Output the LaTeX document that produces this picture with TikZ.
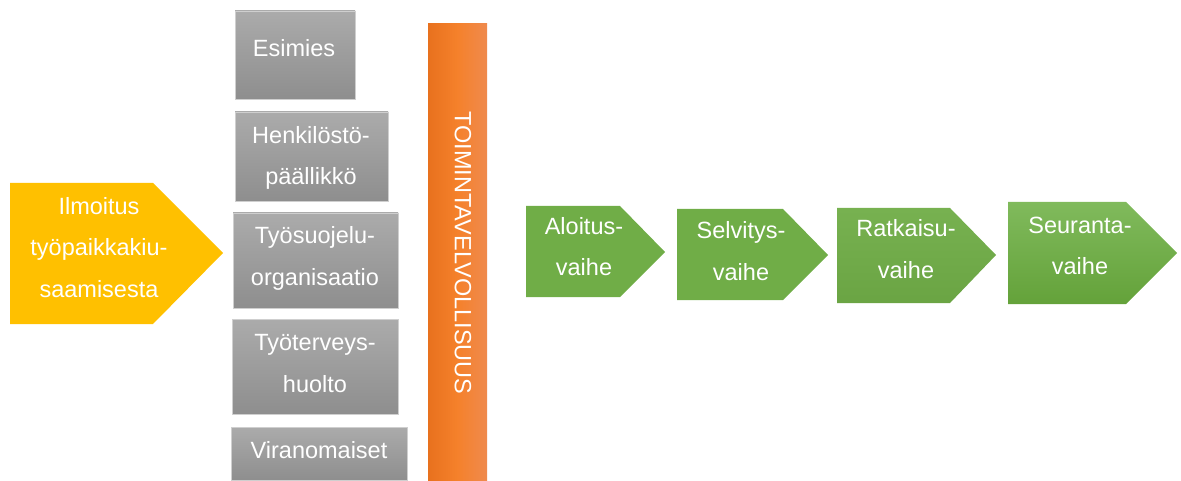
\documentclass[tikz,border=0pt]{standalone}
\usepackage{fontspec}
\setmainfont{Liberation Sans}
\definecolor{ilmo}{HTML}{FFC000}
\definecolor{vaihe}{HTML}{70AD47}
\definecolor{vaihevaalea}{HTML}{80BA5C}
\definecolor{vaihetumma}{HTML}{64A23A}
\definecolor{harmaaylä}{HTML}{ABABAB}
\definecolor{harmaaala}{HTML}{8E8E8E}
\definecolor{harmaareuna}{HTML}{CFCFCF}
\definecolor{oranssi}{HTML}{E8711E}
\definecolor{oranssikeski}{HTML}{F5812B}
\definecolor{oranssivaalea}{HTML}{EF8A4E}
\usetikzlibrary{positioning}

\begin{document}
\begin{tikzpicture}[x=1pt, y=-1pt,
  txt/.style={text=white, font=\fontsize{23.5}{41.5}\selectfont, align=center, inner sep=0pt, anchor=base},
  laatikko/.style={top color=harmaaylä, bottom color=harmaaala, draw=harmaareuna, line width=0.8pt}]
  \useasboundingbox (0,0) rectangle (1181,481);

  % Ilmoitus (base = last line)
  \fill[ilmo] (10,183) -- (153,183) -- (223,253) -- (153,324) -- (10,324) -- cycle;
  \node[txt] (ilmoitus) at (99,297) {Ilmoitus\\työpaikkakiu-\\saamisesta};

  % Toimijat
  \path[laatikko] (235,11) rectangle (355,99);
  \node[txt] (esimies) at (294,57) {Esimies};

  \path[laatikko] (235,112) rectangle (388,201);
  \node[txt] (henkilosto) at (311,185) {Henkilöstö-\\päällikkö};

  \path[laatikko] (233,213) rectangle (398,308);
  \node[txt] (tyosuojelu) at (315,285) {Työsuojelu-\\organisaatio};

  \path[laatikko] (232,319) rectangle (398,414);
  \node[txt] (tyoterveys) at (315,392) {Työterveys-\\huolto};

  \path[laatikko] (231,427) rectangle (407,480);
  \node[txt] (viranomaiset) at (319,458) {Viranomaiset};

  % Toimintavelvollisuus
  \path[left color=oranssi, right color=oranssivaalea, middle color=oranssikeski] (428,24) rectangle (487,481);
  \node[txt, anchor=center, rotate=-90] (velvollisuus) at (463,253) {TOIMINTAVELVOLLISUUS};

  % Vaiheet
  \fill[vaihe] (526,206) -- (620,206) -- (665,252) -- (620,297) -- (526,297) -- cycle;
  \node[txt] (aloitus) at (584,276) {Aloitus-\\vaihe};

  \fill[vaihe] (677,209) -- (783,209) -- (828,255) -- (783,300) -- (677,300) -- cycle;
  \node[txt] (selvitys) at (741,280) {Selvitys-\\vaihe};

  \path[top color=vaihe!95!white, bottom color=vaihe!95!black] (837,208) -- (950,208) -- (996,255) -- (950,303) -- (837,303) -- cycle;
  \node[txt] (ratkaisu) at (906,278) {Ratkaisu-\\vaihe};

  \path[top color=vaihevaalea, bottom color=vaihetumma] (1008,202) -- (1126,202) -- (1177,253) -- (1126,304) -- (1008,304) -- cycle;
  \node[txt] (seuranta) at (1080,275) {Seuranta-\\vaihe};
\end{tikzpicture}
\end{document}
